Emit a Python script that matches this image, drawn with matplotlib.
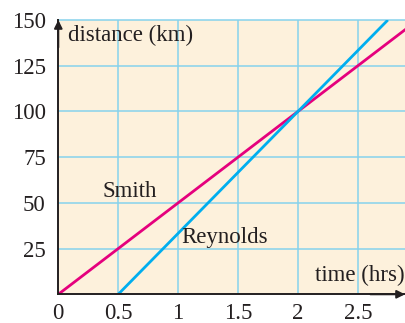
import matplotlib
matplotlib.use("Agg")
import matplotlib.pyplot as plt

smith_t = [0, 1, 2, 2.9]
smith_d = [0, 50, 100, 145]
reynolds_t = [0.5, 2, 2.75]
reynolds_d = [0, 100, 150]
x_ticks = [0, 0.5, 1, 1.5, 2, 2.5]
x_labels = ["0", "0.5", "1", "1.5", "2", "2.5"]
y_ticks = [25, 50, 75, 100, 125, 150]
y_labels = ["25", "50", "75", "100", "125", "150"]

plt.rcParams['font.family'] = ['Liberation Serif', 'DejaVu Serif']

fig = plt.figure(figsize=(4.06, 3.23), dpi=100)
ax = fig.add_axes([58.3/406, 28.7/323, (405-58.3)/406, (294.3-20)/323])
ax.set_facecolor('#FDF1DC')
ax.set_xlim(0, 2.893)
ax.set_ylim(0, 150)

grid_c = '#86D2EC'
for xv in x_ticks[1:]:
    ax.axvline(xv, color=grid_c, lw=1.1, zorder=1)
for yv in y_ticks:
    ax.axhline(yv, color=grid_c, lw=1.1, zorder=1, clip_on=False)

ax.plot(smith_t, smith_d, color='#E5007D', lw=2, zorder=3, solid_capstyle='butt')
ax.plot(reynolds_t, reynolds_d, color='#00AEEF', lw=2, zorder=3, solid_capstyle='butt')

for s in ['top', 'right']:
    ax.spines[s].set_visible(False)
for s in ['left', 'bottom']:
    ax.spines[s].set_color('#231F20')
    ax.spines[s].set_linewidth(1.4)
    ax.spines[s].set_zorder(4)

fs = 16.5
ax.set_xticks(x_ticks)
ax.set_xticklabels(x_labels)
ax.set_yticks(y_ticks)
ax.set_yticklabels(y_labels)
ax.tick_params(length=0, labelsize=fs, colors='#231F20', pad=9)
ax.tick_params(axis='x', pad=6)

ax.annotate('', xy=(0, 1.0), xytext=(0, 0.9), xycoords='axes fraction',
            arrowprops=dict(arrowstyle='-|>', color='#231F20', lw=1.4,
                            mutation_scale=12, shrinkA=0, shrinkB=0), zorder=5)
ax.annotate('', xy=(1.0, 0), xytext=(0.9, 0), xycoords='axes fraction',
            arrowprops=dict(arrowstyle='-|>', color='#231F20', lw=1.4,
                            mutation_scale=12, shrinkA=0, shrinkB=0), zorder=5)

tc = '#231F20'
ax.text(0.08, 141.5, 'distance (km)', fontsize=fs, color=tc, va='center', ha='left')
ax.text(2.89, 10.5, 'time (hrs)', fontsize=fs, color=tc, va='center', ha='right')
ax.text(0.365, 56, 'Smith', fontsize=fs, color=tc, va='center', ha='left')
ax.text(1.03, 31, 'Reynolds', fontsize=fs, color=tc, va='center', ha='left')

fig.savefig('out.png', dpi=100)
